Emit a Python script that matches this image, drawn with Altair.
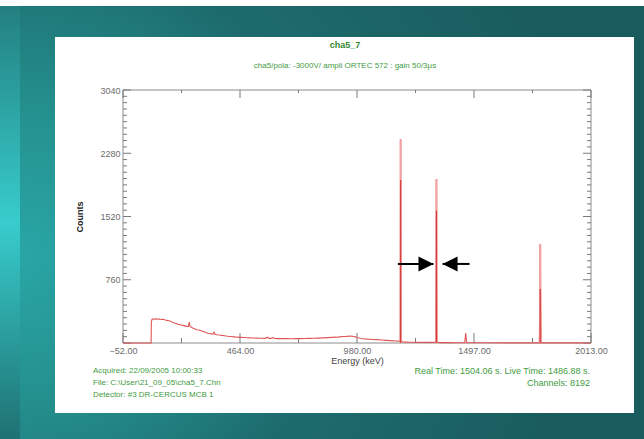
import altair as alt
import numpy as np
import pandas as pd

# ---- spectrum (energy in keV, counts per channel) ----
energy = [
    -52, 70, 72, 73, 76, 82, 88, 95, 102, 110, 118, 126, 134, 142, 150, 158,
    166, 174, 182, 190, 198, 206, 214, 222, 230, 236, 240, 243, 250, 258, 266,
    274, 282, 290, 298, 306, 314, 322, 330, 338, 345, 350, 354, 362, 372, 384,
    396, 410, 424, 438, 452, 466, 480, 496, 512, 528, 544, 560, 576, 586, 592,
    604, 610, 616, 630, 650, 670, 690, 710, 730, 750, 770, 790, 810, 830, 850,
    870, 890, 905, 920, 935, 950, 960, 972, 985, 1000, 1015, 1030, 1050, 1070,
    1090, 1110, 1130, 1150, 1165, 1171, 1173, 1175, 1185, 1200, 1230, 1260,
    1290, 1320, 1328, 1331, 1334, 1350, 1380, 1420, 1450, 1456, 1460, 1464,
    1480, 1550, 1650, 1750, 1785, 1789, 1793, 1850, 1950, 2013,
]
counts = [
    0, 0, 0, 250, 285, 290, 283, 292, 286, 289, 282, 285, 276, 272, 268, 262,
    250, 240, 236, 226, 222, 214, 212, 206, 200, 196, 250, 205, 190, 176, 168,
    160, 156, 150, 142, 134, 126, 118, 114, 110, 106, 132, 104, 100, 96, 92,
    88, 82, 78, 74, 70, 68, 66, 63, 61, 60, 58, 57, 56, 70, 56,
    55, 68, 54, 53, 52, 52, 51, 52, 53, 54, 56, 57, 59, 62, 64,
    67, 70, 74, 78, 80, 84, 82, 74, 64, 55, 50, 46, 42, 40,
    36, 32, 28, 24, 22, 20, 2449, 20, 12, 10, 9, 8,
    8, 8, 7, 1971, 6, 4, 4, 3, 3, 4, 120, 4,
    3, 3, 2, 2, 2, 1190, 2, 1, 1, 0,
]

# full-energy peaks: centroid, height, height of the neighbouring channels
peak_energy = [1173, 1331, 1789]
peak_top = [2449, 1971, 1190]
peak_shoulder = [1959, 1590, 649]

# arrows bracketing the 1331 keV line
arrow_start = [1161, 1477]
arrow_tip = [1318, 1358]
arrow_counts = [950, 950]

x_labels = [-52, 464, 980, 1497, 2013]
y_labels = [760, 1520, 2280, 3040]

# ---- geometry ----
W, H = 468, 253          # plot area
L, T = 123, 90           # plot origin inside the 644x439 page
CW, CH = 644, 439

x_ticks = np.linspace(-52, 2013, 9)
x_major = list(x_ticks[::2])
x_minor = list(x_ticks[1::2])
y_ticks = np.linspace(0, 3040, 41)
y_major = [v for i, v in enumerate(y_ticks) if i % 10 == 0]
y_minor = [v for i, v in enumerate(y_ticks) if i % 10 != 0]

FONT = "Liberation Sans"
GREEN = "#3f9b3f"
TICK = "#7a7a7a"

xscale = alt.Scale(domain=[-52, 2013], nice=False, zero=False)
yscale = alt.Scale(domain=[0, 3040], nice=False, zero=False)

xaxis = alt.Axis(values=x_labels, format=".2f", labelFontSize=9, labelColor="#6b6b6b",
                 labelPadding=3, labelFlush=False, domain=False, ticks=False, grid=False,
                 title="Energy (keV)", titleFontSize=9, titleFontWeight="normal",
                 titleColor="#444444", titlePadding=1, labelFont=FONT, titleFont=FONT, zindex=1)
yaxis = alt.Axis(values=y_labels, format="d", labelFontSize=9, labelColor="#6b6b6b",
                 labelPadding=3, labelFlush=False, domain=False, ticks=False, grid=False,
                 title="Counts", titleFontSize=9, titleFontWeight="bold", titleColor="#222222",
                 titlePadding=15, labelFont=FONT, titleFont=FONT, zindex=1)


def X(field):
    return alt.X(field, type="quantitative", scale=xscale, axis=xaxis)


def Y(field):
    return alt.Y(field, type="quantitative", scale=yscale, axis=yaxis)


one = pd.DataFrame({"k": [0]})


def box(x0, y0, x1, y1, **mark):
    """Rectangle given in page pixels."""
    return alt.Chart(one).mark_rect(**mark).encode(
        x=alt.value(x0 - L), x2=alt.value(x1 - L),
        y=alt.value(y0 - T), y2=alt.value(y1 - T),
    )


# ---- slide background ----
page = box(0, 0, CW, CH, fill="white")
strip = box(0, 6, 20, CH, fill={
    "gradient": "linear", "x1": 0, "y1": 0, "x2": 0, "y2": 1,
    "stops": [{"offset": 0, "color": "#237f80"}, {"offset": 0.5, "color": "#38cccc"},
              {"offset": 1, "color": "#1f7172"}]})
frame = box(20, 6, CW, CH, fill={
    "gradient": "radial", "x1": 0, "y1": 0.55, "r1": 0, "x2": 0, "y2": 0.55, "r2": 0.9,
    "stops": [{"offset": 0, "color": "#29a6a6"}, {"offset": 0.25, "color": "#24918f"},
              {"offset": 0.55, "color": "#1d6b6d"}, {"offset": 1, "color": "#1a5c5e"}]})
panel = box(55, 37, 634, 413, fill="white")

plot_frame = alt.Chart(one).mark_rect(fill="white", stroke="#8c8c8c", strokeWidth=1).encode(
    x=alt.value(0), x2=alt.value(W), y=alt.value(0), y2=alt.value(H))

# ---- inward ticks on all four sides ----
def xticks(vals, length):
    d = pd.DataFrame({"e": vals})
    bottom = alt.Chart(d).mark_rule(color=TICK, strokeWidth=1).encode(
        x=X("e"), y=alt.value(H), y2=alt.value(H - length))
    top = alt.Chart(d).mark_rule(color=TICK, strokeWidth=1).encode(
        x=X("e"), y=alt.value(0), y2=alt.value(length - 2))
    return [bottom, top]


def yticks(vals, length):
    d = pd.DataFrame({"c": vals})
    left = alt.Chart(d).mark_rule(color=TICK, strokeWidth=1).encode(
        y=Y("c"), x=alt.value(0), x2=alt.value(length))
    right = alt.Chart(d).mark_rule(color=TICK, strokeWidth=1).encode(
        y=Y("c"), x=alt.value(W), x2=alt.value(W - length))
    return [left, right]


ticks = xticks(x_major, 10) + xticks(x_minor, 5) + yticks(y_major, 8) + yticks(y_minor, 4)

# ---- spectrum ----
spec = pd.DataFrame({"energy": energy, "counts": counts})
line = alt.Chart(spec).mark_line(color="#e05555", strokeWidth=1.1, interpolate="linear").encode(
    x=X("energy"), y=Y("counts"), order=alt.Order("energy:Q"))

peaks = pd.DataFrame({"energy": peak_energy, "top": peak_top, "shoulder": peak_shoulder})
peak_upper = alt.Chart(peaks).transform_calculate(base="0").mark_rule(
    color="#f2a2a2", strokeWidth=2.2).encode(x=X("energy"), y=Y("top"), y2=alt.Y2("base:Q"))
peak_lower = alt.Chart(peaks).transform_calculate(base="0").mark_rule(
    color="#d63838", strokeWidth=1.1).encode(x=X("energy"), y=Y("shoulder"), y2=alt.Y2("base:Q"))

# ---- arrows ----
arrows = pd.DataFrame({"start": arrow_start, "tip": arrow_tip, "counts": arrow_counts})
shaft = alt.Chart(arrows).mark_rule(color="black", strokeWidth=2).encode(
    x=X("start"), x2=alt.X2("tip"), y=Y("counts"))
head = alt.Chart(arrows).transform_calculate(
    dir="datum.tip > datum.start ? 'right' : 'left'"
).mark_point(filled=True, color="black", opacity=1, size=225).encode(
    x=X("tip"), y=Y("counts"),
    shape=alt.Shape("dir:N", legend=None, scale=alt.Scale(
        domain=["right", "left"], range=["M-2,-1L0,0L-2,1Z", "M2,-1L0,0L2,1Z"])))

# ---- header and footer text ----
def label(text, x, y, size=8.5, weight="normal", align="left", color=GREEN):
    return alt.Chart(one).mark_text(
        text=text, font=FONT, fontSize=size, fontWeight=weight, align=align,
        baseline="middle", color=color, lineHeight=12,
    ).encode(x=alt.value(x - L), y=alt.value(y - T))


texts = [
    label("cha5_7", 345, 45, size=9, weight="bold", align="center", color="#338a33"),
    label("cha5/pola: -3000V/ ampli ORTEC 572 : gain 50/3µs", 345, 66, size=8, align="center"),
    label(["Acquired:  22/09/2005 10:00:33", "File:  C:\\User\\21_09_05\\cha5_7.Chn",
           "Detector:  #3 DR-CERCUS MCB 1"], 93, 371, size=8),
    label(["Real Time: 1504.06 s.  Live Time: 1486.88 s.", "Channels:  8192"], 590, 371,
          size=9, align="right"),
]

chart = alt.layer(
    page, strip, frame, panel, plot_frame, *ticks, line, peak_upper, peak_lower,
    shaft, head, *texts,
).properties(
    width=W, height=H,
    padding={"left": L, "top": T, "right": CW - L - W, "bottom": CH - T - H},
    autosize=alt.AutoSizeParams(type="none"),
    background="white",
).configure_view(stroke=None)

chart.save("out.html", embed_options={"renderer": "svg", "actions": False})
